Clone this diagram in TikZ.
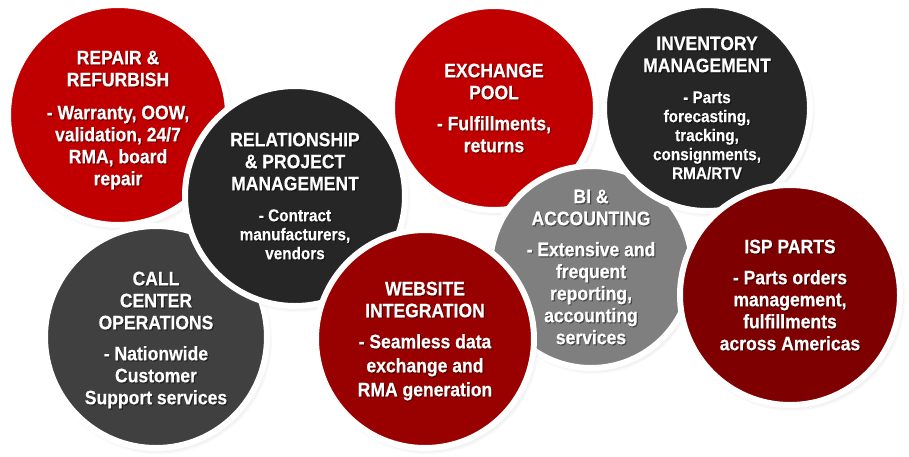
\documentclass[tikz,border=0pt]{standalone}
\usepackage{fontspec}
\setmainfont{Liberation Sans}[FakeStretch=0.9, BoldFeatures={FakeBold=0.4}]
\usetikzlibrary{shadows}

\definecolor{redA}{HTML}{C00000}
\definecolor{redB}{HTML}{990000}
\definecolor{redC}{HTML}{7F0000}
\definecolor{darkA}{HTML}{262626}
\definecolor{greyA}{HTML}{404040}
\definecolor{greyB}{HTML}{7F7F7F}

\tikzset{
  bubble/.style={circle, draw=white, line width=6pt, inner sep=0pt,
    circular drop shadow={shadow xshift=2pt, shadow yshift=-3pt, shadow scale=1.03, opacity=.45}},
  blurb/.style={align=center, text=white, inner sep=0pt,
    font=\fontsize{19.5}{22}\selectfont\bfseries},
}
% space between heading and bullet text, smaller bullet font
\newcommand{\gap}{\\[9pt]}
\newcommand{\sm}{\fontsize{17}{19}\selectfont}
% [text shift down], name, centre x, centre y, radius, colour, text
\newcommand{\bubbletext}[7][0]{%
  \node[bubble, fill=#6, minimum size={(2*#5+6)*1pt}] (#2) at (#3,#4) {};
  \node[blurb, text=black, opacity=.4] (#2-shade) at ([shift={(1.2,#1+1.2)}]#2.center) {#7};
  \node[blurb] (#2-txt) at ([shift={(0,#1)}]#2.center) {#7};
}

\begin{document}
\begin{tikzpicture}[x=1pt, y=-1pt]
\useasboundingbox (0,0) rectangle (909,456);

\bubbletext[5]{repair}{118}{115}{107}{redA}{REPAIR \&\\REFURBISH\\[11pt] - Warranty, OOW,\\validation, 24/7\\RMA, board\\repair}
\bubbletext[3]{callcenter}{156}{337}{108}{greyA}{CALL\\CENTER\\OPERATIONS\gap - Nationwide\\Customer\\Support services}
\bubbletext{relation}{295}{196}{107}{darkA}{RELATIONSHIP\\\& PROJECT\\MANAGEMENT\gap \sm - Contract\\[-3pt]\sm manufacturers,\\[-3pt]\sm vendors}
\bubbletext{exchange}{494}{108}{99}{redA}{EXCHANGE\\POOL\gap - Fulfillments,\\returns}
\bubbletext{biacc}{591}{267}{98}{greyB}{BI \&\\ACCOUNTING\gap - Extensive and\\frequent\\reporting,\\accounting\\services}
\bubbletext{inventory}{707}{108}{100}{darkA}{INVENTORY\\MANAGEMENT\gap \sm - Parts\\[-3pt]\sm forecasting,\\[-3pt]\sm tracking,\\[-3pt]\sm consignments,\\[-3pt]\sm RMA/RTV}
\bubbletext[2]{website}{425}{339}{106}{redB}{WEBSITE\\INTEGRATION\gap - Seamless data\\[2pt]exchange and\\[2pt]RMA generation}
\bubbletext{isp}{790}{295}{107}{redC}{ISP PARTS\gap - Parts orders\\management,\\fulfillments\\across Americas}
\end{tikzpicture}
\end{document}
